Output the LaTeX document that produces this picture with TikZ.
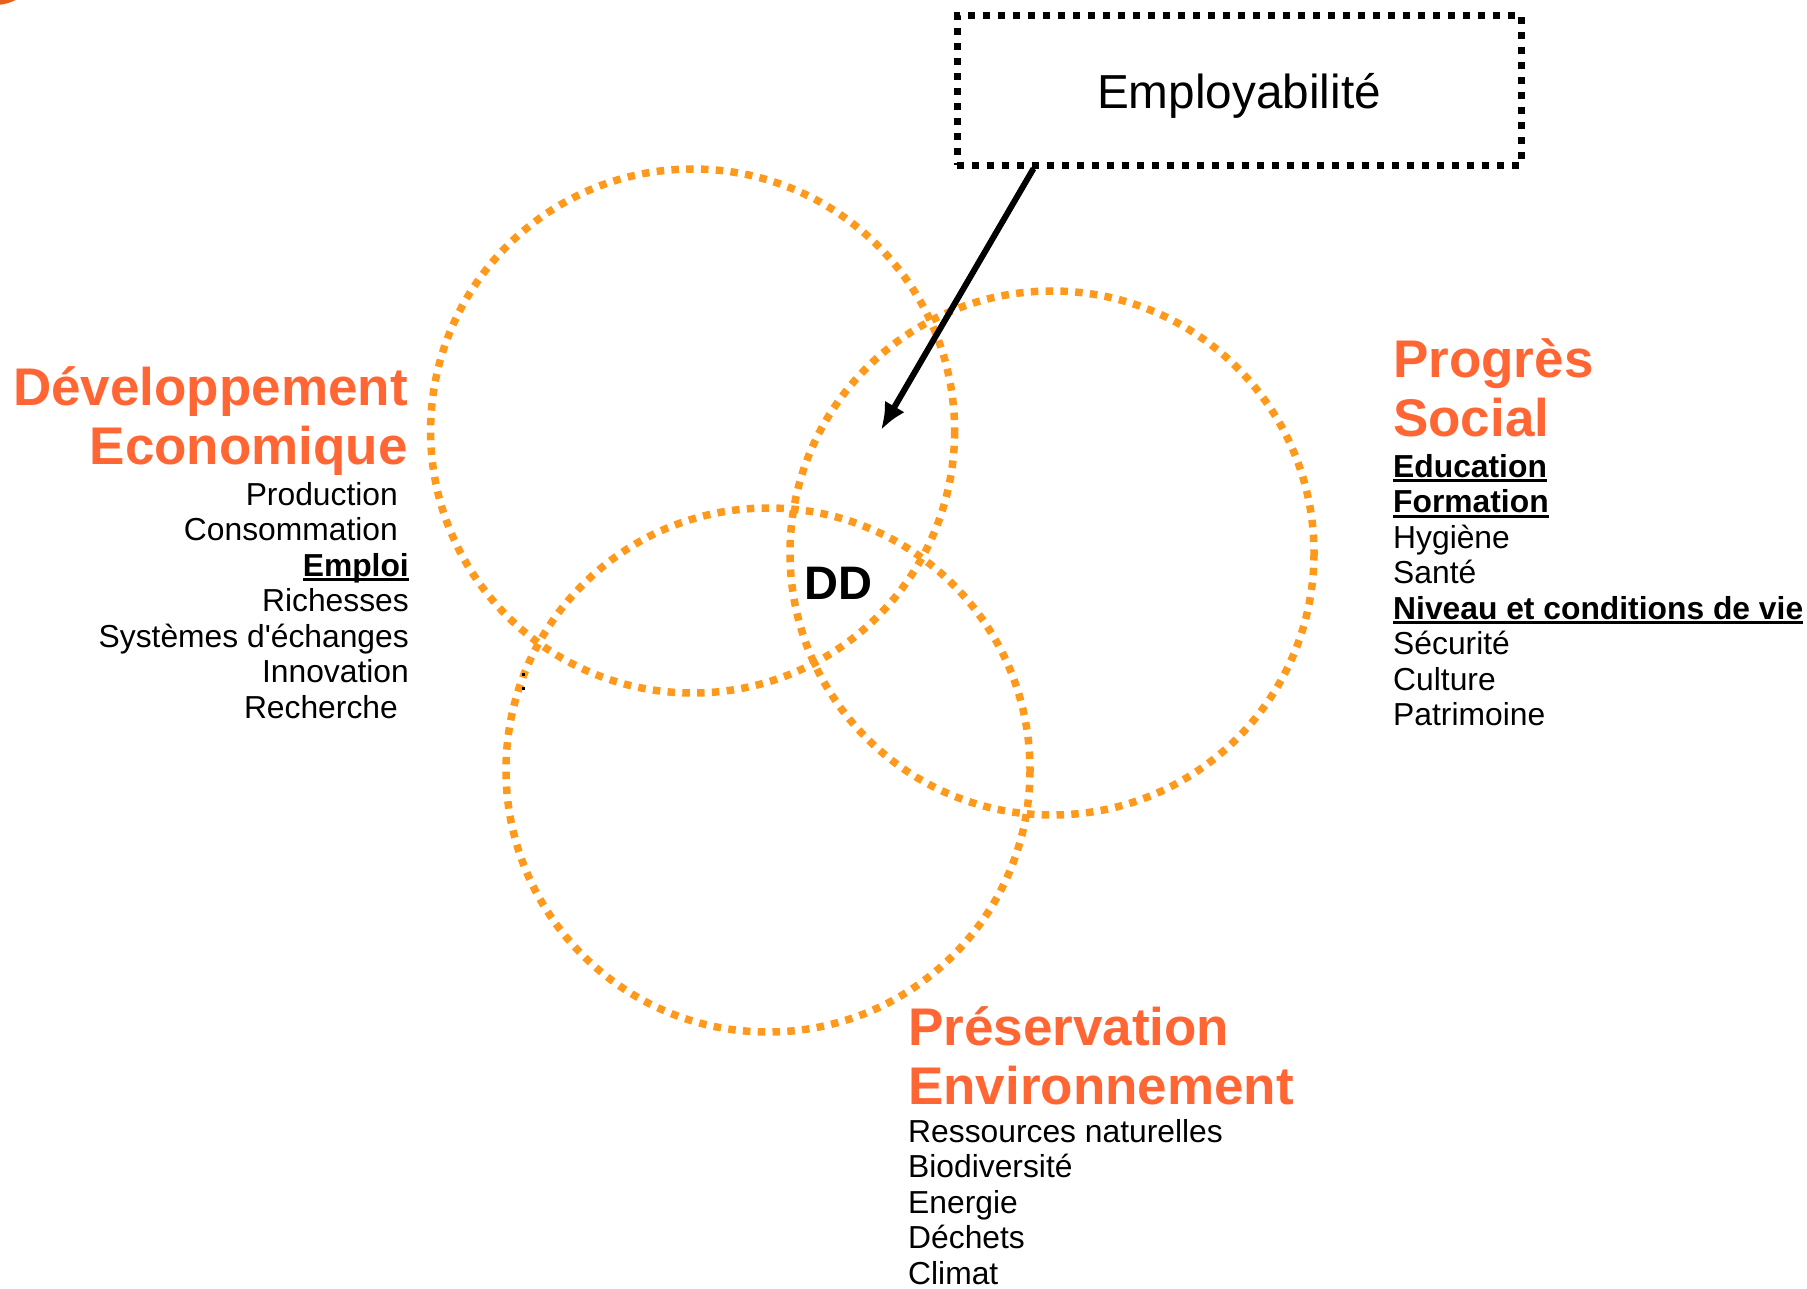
\documentclass[tikz,border=0pt]{standalone}
\usepackage{fontspec}
\setmainfont{Liberation Sans}[Ligatures=TeXOff]
\usetikzlibrary{arrows.meta,calc}
\definecolor{circorange}{RGB}{255,153,28}
\definecolor{titleorange}{RGB}{255,102,51}
\definecolor{cornerorange}{RGB}{232,96,28}
\newcommand\myul[1]{\sbox0{#1}\rlap{\usebox0}\rule[-5pt]{\wd0}{2.6pt}}
\begin{document}
\begin{tikzpicture}[x=1pt,y=-1pt,
  venn/.style={draw=circorange, line width=7.5pt, dash pattern=on 7.5pt off 7.3pt},
  titletext/.style={text=titleorange, inner sep=0pt, font=\fontsize{53}{59.5}\selectfont\bfseries},
  itemtext/.style={inner sep=0pt, font=\fontsize{31.8}{35.5}\selectfont},
  dotbox/.style={draw, line width=7pt, dash pattern=on 7pt off 8pt, inner sep=0pt,
    minimum width=564pt, minimum height=149.5pt, text height=37.4pt, text depth=0pt,
    font=\fontsize{47.7}{55}\selectfont},
  pointer/.style={line width=6pt, -{Latex[length=27pt,width=23pt]}}
  ]
\useasboundingbox (0,0) rectangle (1807,1289);
\fill[cornerorange] (-5,-40) circle (45);
% circles
\draw[venn] (692.6,431) circle (262);
\draw[venn] (1052,553) circle (262);
\draw[venn] (768,770) circle (262);
% stray marks
\fill (521.5,672.5) rectangle +(3,3);
\fill (521.5,686.5) rectangle +(3,3);
% box and arrow
\node[dotbox] (box) at (1239,90.3) {Employabilit\'e};
\coordinate (tip) at (881,430);
\draw[pointer] ($(box.south west)+(80,0)$) -- (tip);
\node[inner sep=0pt, font=\fontsize{47}{50}\selectfont\bfseries] (dd) at (838,583) {DD};
% Economic
\node[titletext, anchor=base east] (econtitle) at (408,405)
  {\begin{tabular}[t]{@{}r@{}}Développement\\Economique\end{tabular}};
\node[itemtext, anchor=base east] (econlist) at (409,505)
  {\begin{tabular}[t]{@{}r@{}}Production\hspace*{11pt}\\Consommation\hspace*{11pt}\\\textbf{\myul{Emploi}}\\Richesses\\Systèmes d'échanges\\Innovation\\Recherche\hspace*{11pt}\end{tabular}};
% Social
\node[titletext, anchor=base west] (soctitle) at (1393,377)
  {\begin{tabular}[t]{@{}l@{}}Progrès\\Social\end{tabular}};
\node[itemtext, anchor=base west] (soclist) at (1393,477)
  {\begin{tabular}[t]{@{}l@{}}\textbf{\myul{Education}}\\\textbf{\myul{Formation}}\\Hygiène\\Santé\\\textbf{\myul{Niveau et conditions de vie}}\\Sécurité\\Culture\\Patrimoine\end{tabular}};
% Environment
\node[titletext, anchor=base west] (envtitle) at (908,1045)
  {\begin{tabular}[t]{@{}l@{}}Préservation\\Environnement\end{tabular}};
\node[itemtext, anchor=base west] (envlist) at (908,1142)
  {\begin{tabular}[t]{@{}l@{}}Ressources naturelles\\Biodiversité\\Energie\\Déchets\\Climat\end{tabular}};
\end{tikzpicture}
\end{document}
